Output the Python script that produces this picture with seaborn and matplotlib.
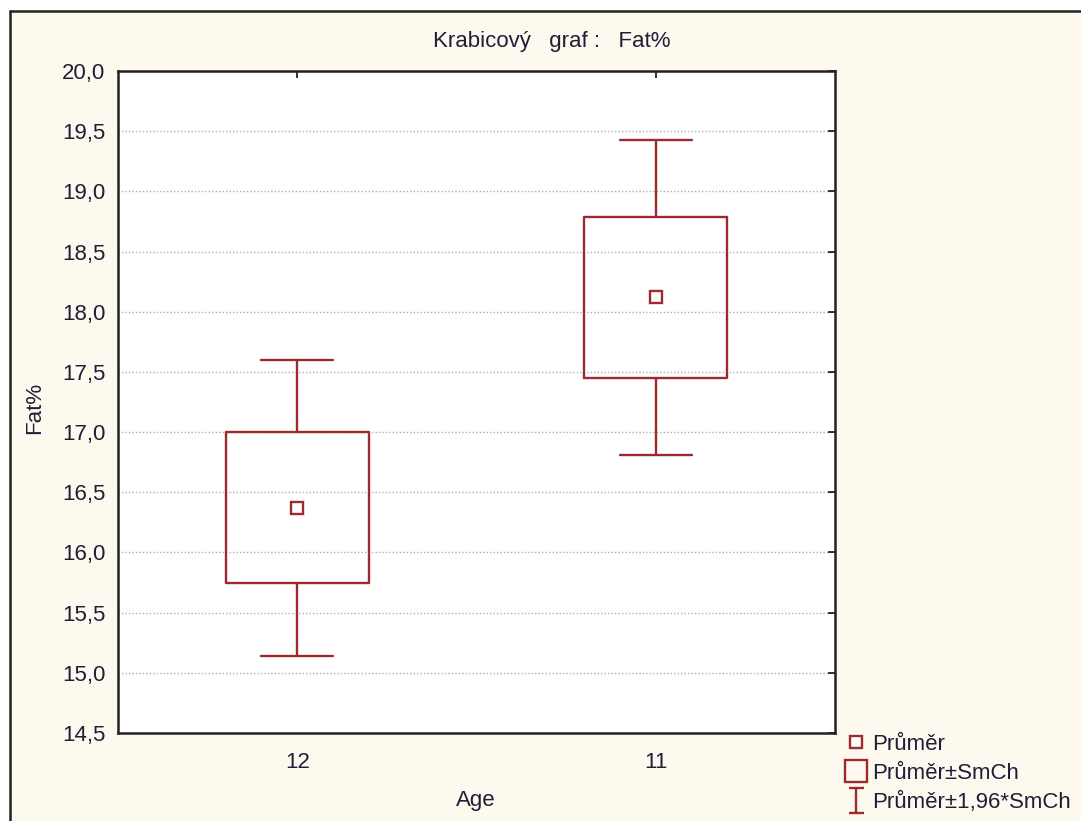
import numpy as np
import pandas as pd
import matplotlib
matplotlib.use("Agg")
import matplotlib.pyplot as plt
import seaborn as sns
from matplotlib.lines import Line2D
from matplotlib.path import Path
from matplotlib.patches import Rectangle
from matplotlib.ticker import FuncFormatter

# ---- data ----
groups = ["12", "11"]
means = [16.37, 18.12]
se_low = [15.75, 17.45]      # Průměr - SmCh
se_high = [17.00, 18.79]     # Průměr + SmCh
ci_low = [15.14, 16.81]      # Průměr - 1,96*SmCh
ci_high = [17.60, 19.43]     # Průměr + 1,96*SmCh
yticks = [14.5, 15.0, 15.5, 16.0, 16.5, 17.0, 17.5, 18.0, 18.5, 19.0, 19.5, 20.0]
legend_labels = ["Průměr", "Průměr±SmCh", "Průměr±1,96*SmCh"]

# long-form table whose quartiles / extremes reproduce the box statistics
rows = []
for g, a, b, m, c, d in zip(groups, ci_low, se_low, means, se_high, ci_high):
    for v in (a, b, m, c, d):
        rows.append({"Age": g, "Fat%": v})
df = pd.DataFrame(rows)

RED = "#9E2A2F"
TXT = "#1E1E38"
BG = "#FEF9EF"
FS = 16

sns.set_theme(style="white")
plt.rcParams["font.family"] = ["Liberation Sans", "DejaVu Sans"]
plt.rcParams["font.size"] = FS

W, H = 1081, 821
fig = plt.figure(figsize=(W / 100, H / 100), dpi=100, facecolor=BG)

# window decorations: light strips and black frame at top/left
fig.patches.append(Rectangle((0, 1 - 10 / H), 1, 10 / H, transform=fig.transFigure,
                             facecolor="white", edgecolor="none", zorder=0))
fig.patches.append(Rectangle((0, 0), 10 / W, 1, transform=fig.transFigure,
                             facecolor="white", edgecolor="none", zorder=0))
fig.add_artist(Line2D([10 / W, 1], [1 - 11 / H, 1 - 11 / H], transform=fig.transFigure,
                      color="#222222", lw=1.8))
fig.add_artist(Line2D([10 / W, 10 / W], [0, 1 - 11 / H], transform=fig.transFigure,
                      color="#222222", lw=1.8))

left, right, top, bottom = 118 / W, 835 / W, 1 - 71 / H, 1 - 733 / H
ax = fig.add_axes([left, bottom, right - left, top - bottom])
ax.set_facecolor("white")

sns.boxplot(data=df, x="Age", y="Fat%", order=groups, width=0.4, whis=(0, 100),
            fill=False, color=RED, linecolor=RED, linewidth=1.7, showfliers=False,
            medianprops={"visible": False}, ax=ax)

sns.pointplot(x=groups, y=means, order=groups, linestyle="none", marker="s",
              color=RED, markersize=8, markerfacecolor="white", markeredgecolor=RED,
              markeredgewidth=1.7, errorbar=None, ax=ax)

ax.set_xlim(-0.5, 1.5)
ax.set_ylim(14.5, 20.0)
ax.set_yticks(yticks)
ax.yaxis.set_major_formatter(FuncFormatter(lambda v, p: f"{v:.1f}".replace(".", ",")))
ax.grid(axis="y", linestyle=(0, (1, 1.5)), color="#B0B0B0", linewidth=1)
ax.grid(axis="x", visible=False)
ax.set_axisbelow(True)

for s in ax.spines.values():
    s.set_visible(True)
    s.set_color("#222222")
    s.set_linewidth(1.8)

ax.tick_params(axis="both", direction="in", length=5, width=1.3, colors="#222222",
               labelcolor=TXT, labelsize=FS, top=True, right=True,
               labeltop=False, labelright=False, pad=9)
ax.tick_params(axis="x", pad=14)

ax.set_xlabel("")
ax.set_ylabel("")
fig.text(35 / W, 1 - 408 / H, "Fat%", rotation=90, ha="center", va="center",
         color=TXT, fontsize=FS)
fig.text(476 / W, 1 - 800 / H, "Age", ha="center", va="center", color=TXT, fontsize=FS)
fig.text(552 / W, 1 - 42 / H, "Krabicový   graf :   Fat%", ha="center", va="center",
         color=TXT, fontsize=FS)

# legend
ibar = Path([(-0.6, -1), (0.6, -1), (0, -1), (0, 1), (-0.6, 1), (0.6, 1)],
            [Path.MOVETO, Path.LINETO, Path.MOVETO, Path.LINETO, Path.MOVETO, Path.LINETO])
handles = [
    Line2D([], [], ls="none", marker="s", ms=8, mfc="white", mec=RED, mew=1.7),
    Line2D([], [], ls="none", marker="s", ms=16, mfc="none", mec=RED, mew=1.7),
    Line2D([], [], ls="none", marker=ibar, ms=18, mfc="none", mec=RED, mew=1.7),
]
fig.legend(handles, legend_labels, loc="upper left",
           bbox_to_anchor=(834 / W, 1 - 723 / H), frameon=False, fontsize=FS,
           handlelength=1.0, handletextpad=0.2, labelspacing=0.36, borderpad=0,
           labelcolor=TXT)

fig.savefig("out.png", dpi=100, facecolor=BG)
